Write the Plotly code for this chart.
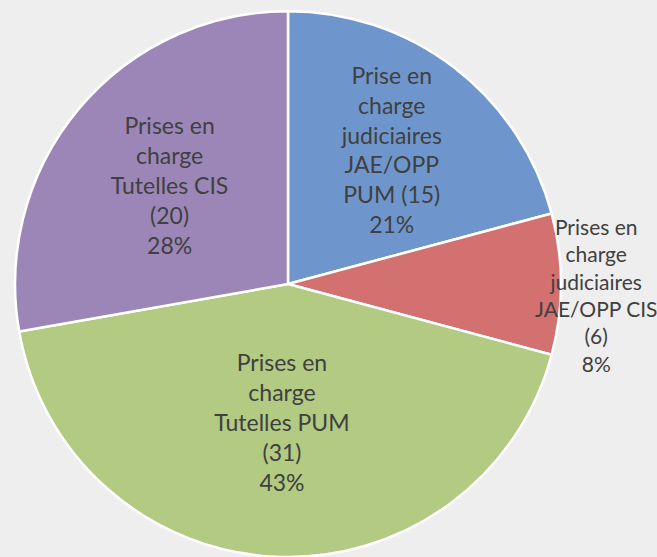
import plotly.graph_objects as go

categories = [
    "Prise en<br>charge<br>judiciaires<br>JAE/OPP<br>PUM",
    "Prises en<br>charge<br>judiciaires<br>JAE/OPP CIS",
    "Prises en<br>charge<br>Tutelles PUM",
    "Prises en<br>charge<br>Tutelles CIS",
]
counts = [15, 6, 31, 20]
percent_labels = ["21%", "8%", "43%", "28%"]
count_sep = [" ", "<br>", "<br>", "<br>"]
show_in_pie = [True, False, True, True]

colors = ["#6f96cc", "#d2716f", "#b2ca82", "#9c86b8"]

texts = [f"{c}{s}({n})<br>{p}" for c, s, n, p in zip(categories, count_sep, counts, percent_labels)]
pie_texts = [t if show else "" for t, show in zip(texts, show_in_pie)]

FONT = dict(family="Lato", size=23, color="#404040")
SIDE_FONT = dict(family="Lato", size=21, color="#404040")

fig = go.Figure(
    go.Pie(
        values=counts,
        text=pie_texts,
        textinfo="text",
        textposition="inside",
        insidetextorientation="horizontal",
        sort=False,
        direction="clockwise",
        rotation=0,
        marker=dict(colors=colors, line=dict(color="white", width=2.5)),
        textfont=FONT,
        domain=dict(x=[0, 0.8767], y=[0, 0.98]),
        hoverinfo="none",
        showlegend=False,
    )
)

# label of the small slice, placed beside it (best-fit style)
for t, show in zip(texts, show_in_pie):
    if not show:
        fig.add_annotation(
            text=t, xref="paper", yref="paper", x=0.907, y=0.47,
            xanchor="center", yanchor="middle",
            showarrow=False, font=SIDE_FONT, align="center",
        )

fig.update_layout(
    width=657,
    height=557,
    margin=dict(l=0, r=0, t=0, b=0),
    paper_bgcolor="#eeeeee",
    plot_bgcolor="#eeeeee",
    uniformtext=dict(minsize=23, mode="show"),
)

fig.write_html("out.html")
